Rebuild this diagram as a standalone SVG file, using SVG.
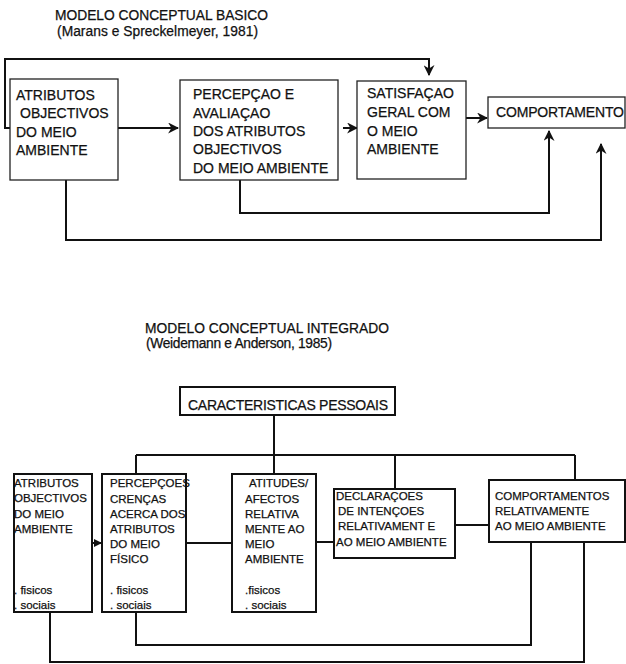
<svg xmlns="http://www.w3.org/2000/svg" width="626" height="664" viewBox="0 0 626 664">
<defs>
<style>
text{font-family:"Liberation Sans",Arial,sans-serif;fill:#111;stroke:#111;stroke-width:0.25;}
.t{font-size:13.8px;}
.b{font-size:14px;}
.s{font-size:11.5px;}
.box1{fill:#fff;stroke:#222;stroke-width:1.3;}
.box2{fill:#fff;stroke:#111;stroke-width:2;}
.ln{fill:none;stroke:#111;stroke-width:2;}
</style>
<marker id="ah" viewBox="0 0 10 10" refX="9" refY="5" markerWidth="5.5" markerHeight="5.5" orient="auto" markerUnits="strokeWidth">
<path d="M0,0 L10,5 L0,10 L3,5 Z" fill="#111"/>
</marker>
<marker id="tri" viewBox="0 0 10 10" refX="10" refY="5" markerWidth="4" markerHeight="4" orient="auto" markerUnits="strokeWidth">
<path d="M0,0 L10,5 L0,10 Z" fill="#111"/>
</marker>
</defs>
<rect width="626" height="664" fill="#fff"/>

<g id="titles">
<text class="t" x="55" y="20" textLength="213">MODELO CONCEPTUAL BASICO</text>
<text class="t" x="57" y="36" textLength="201">(Marans e Spreckelmeyer, 1981)</text>
<text class="t" x="145" y="333" textLength="244">MODELO CONCEPTUAL INTEGRADO</text>
<text class="t" x="146" y="348" textLength="186">(Weidemann e Anderson, 1985)</text>
</g>

<g id="connectors">
<polyline class="ln" points="17,128 5,128 5,59 429,59 429,75" marker-end="url(#ah)"/>
<line class="ln" x1="118" y1="128" x2="178" y2="128" marker-end="url(#ah)"/>
<line class="ln" x1="343" y1="128" x2="357" y2="128" marker-end="url(#ah)"/>
<line class="ln" x1="466" y1="118" x2="487" y2="118" marker-end="url(#ah)"/>
<polyline class="ln" points="240,180 240,213 549,213 549,131" marker-end="url(#ah)"/>
<polyline class="ln" points="66,180 66,240 601,240 601,144" marker-end="url(#ah)"/>

<line class="ln" x1="274" y1="415" x2="274" y2="455"/>
<line class="ln" x1="136" y1="455" x2="575" y2="455"/>
<line class="ln" x1="136" y1="455" x2="136" y2="474"/>
<line class="ln" x1="274" y1="455" x2="274" y2="474"/>
<line class="ln" x1="395" y1="455" x2="395" y2="489"/>
<line class="ln" x1="575" y1="455" x2="575" y2="480"/>
<line class="ln" x1="92" y1="543" x2="102" y2="543" marker-end="url(#tri)"/>
<line class="ln" x1="186" y1="543" x2="232" y2="543"/>
<line class="ln" x1="316" y1="542" x2="334" y2="542"/>
<line class="ln" x1="455" y1="525" x2="489" y2="525"/>
<polyline class="ln" points="136,612 136,645 531,645 531,542"/>
<polyline class="ln" points="50,612 50,662 584,662 584,542"/>
</g>

<g id="n1">
<rect class="box1" x="10" y="79" width="108" height="101"/>
<text class="b" x="16" y="100">ATRIBUTOS</text>
<text class="b" x="20" y="118">OBJECTIVOS</text>
<text class="b" x="16" y="137">DO MEIO</text>
<text class="b" x="16" y="155">AMBIENTE</text>
</g>
<g id="n2">
<rect class="box1" x="180" y="80" width="158" height="100"/>
<text class="b" x="193" y="99">PERCEPÇAO E</text>
<text class="b" x="193" y="118">AVALIAÇAO</text>
<text class="b" x="193" y="136">DOS ATRIBUTOS</text>
<text class="b" x="193" y="154">OBJECTIVOS</text>
<text class="b" x="193" y="173">DO MEIO AMBIENTE</text>
</g>
<g id="n3">
<rect class="box1" x="357" y="81" width="109" height="98"/>
<text class="b" x="367" y="98">SATISFAÇAO</text>
<text class="b" x="367" y="117">GERAL COM</text>
<text class="b" x="367" y="136">O MEIO</text>
<text class="b" x="367" y="154">AMBIENTE</text>
</g>
<g id="n4">
<rect class="box1" x="488" y="97" width="137" height="31"/>
<text class="b" x="496" y="117" textLength="128">COMPORTAMENTO</text>
</g>

<g id="n5">
<rect class="box2" x="180" y="387" width="215" height="28"/>
<text class="b" x="188" y="410" textLength="200">CARACTERISTICAS PESSOAIS</text>
</g>
<g id="n6">
<rect class="box2" x="14" y="474" width="78" height="138"/>
<text class="s" x="14" y="487">ATRIBUTOS</text>
<text class="s" x="14" y="502">OBJECTIVOS</text>
<text class="s" x="14" y="518">DO MEIO</text>
<text class="s" x="14" y="533">AMBIENTE</text>
<text class="s" x="14" y="594">. fisicos</text>
<text class="s" x="14" y="609">. sociais</text>
</g>
<g id="n7">
<rect class="box2" x="102" y="474" width="84" height="138"/>
<text class="s" x="110" y="487">PERCEPÇOES</text>
<text class="s" x="110" y="503">CRENÇAS</text>
<text class="s" x="110" y="518">ACERCA DOS</text>
<text class="s" x="110" y="533">ATRIBUTOS</text>
<text class="s" x="110" y="548">DO MEIO</text>
<text class="s" x="110" y="563">FÍSICO</text>
<text class="s" x="110" y="594">. fisicos</text>
<text class="s" x="110" y="609">. sociais</text>
</g>
<g id="n8">
<rect class="box2" x="232" y="474" width="84" height="138"/>
<text class="s" x="249" y="487">ATITUDES/</text>
<text class="s" x="245" y="503">AFECTOS</text>
<text class="s" x="245" y="518">RELATIVA</text>
<text class="s" x="245" y="533">MENTE AO</text>
<text class="s" x="245" y="548">MEIO</text>
<text class="s" x="245" y="563">AMBIENTE</text>
<text class="s" x="245" y="594">.fisicos</text>
<text class="s" x="245" y="609">. sociais</text>
</g>
<g id="n9">
<rect class="box2" x="334" y="489" width="121" height="69"/>
<text class="s" x="336" y="500">DECLARAÇOES</text>
<text class="s" x="338" y="515">DE INTENÇOES</text>
<text class="s" x="338" y="530">RELATIVAMENT E</text>
<text class="s" x="336" y="546">AO MEIO AMBIENTE</text>
</g>
<g id="n10">
<rect class="box2" x="489" y="480" width="136" height="62"/>
<text class="s" x="495" y="500">COMPORTAMENTOS</text>
<text class="s" x="495" y="515">RELATIVAMENTE</text>
<text class="s" x="495" y="530">AO MEIO AMBIENTE</text>
</g>
</svg>
